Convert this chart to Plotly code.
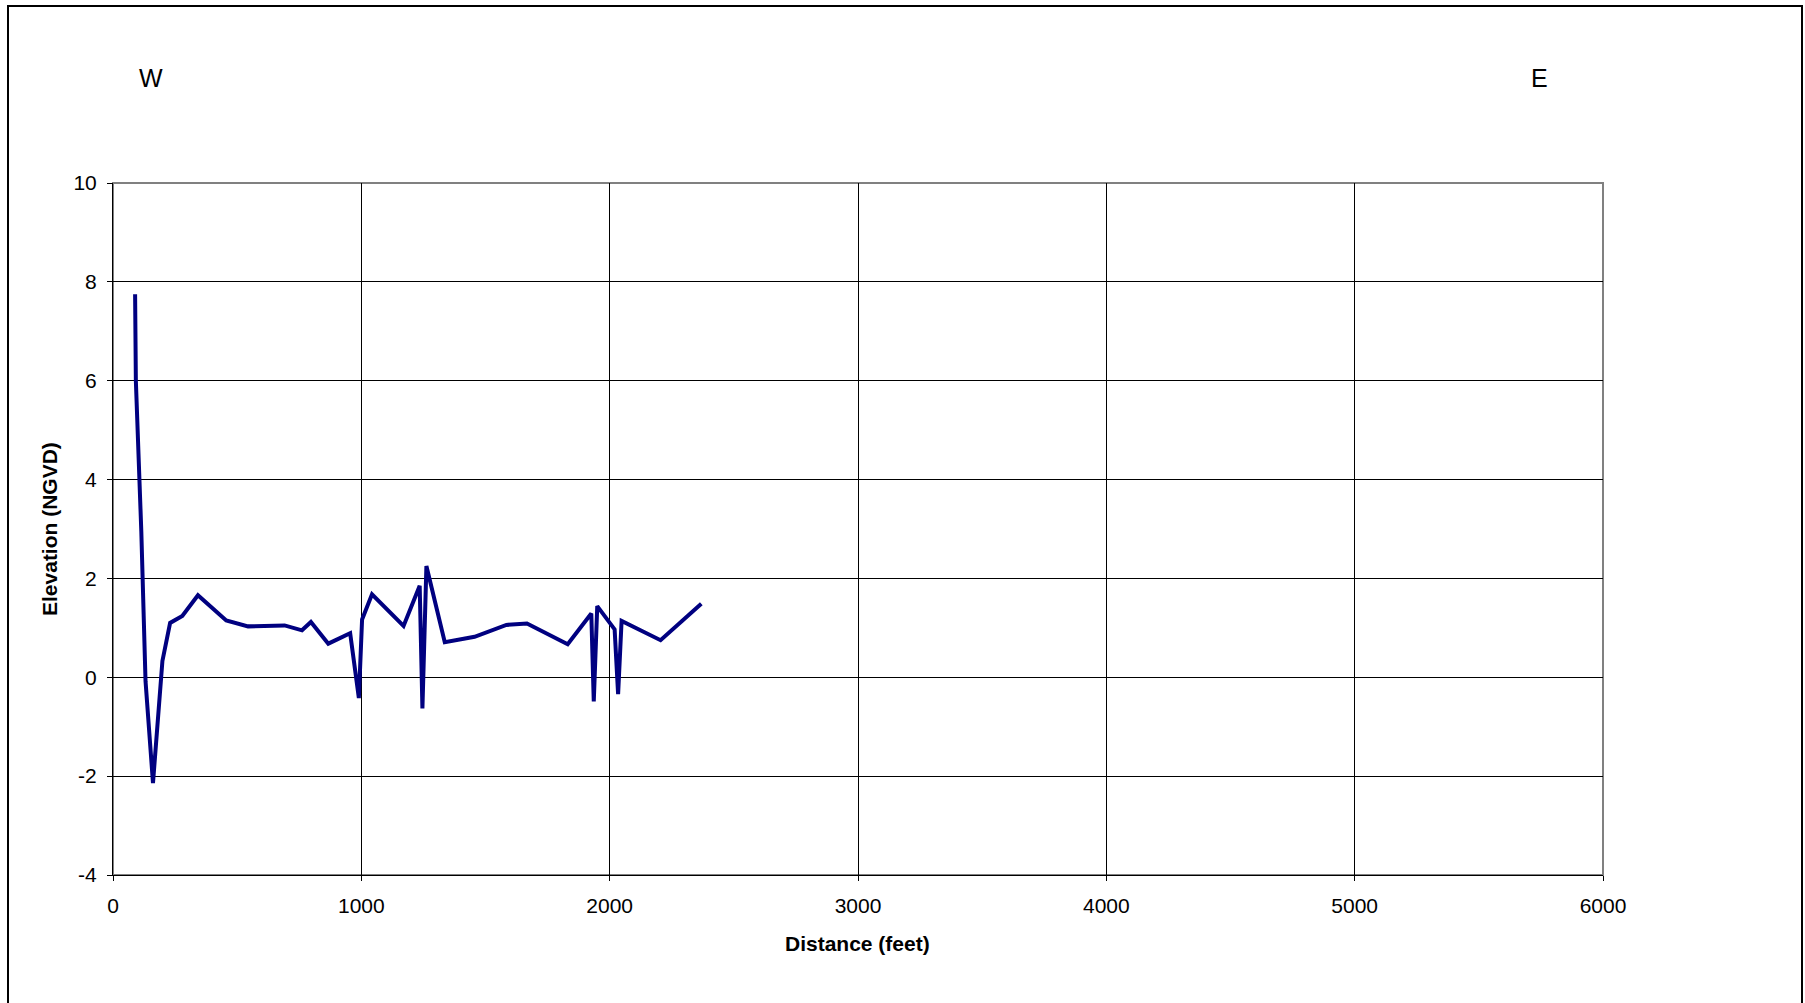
import plotly.graph_objects as go

distance_ft = [89, 92, 114, 131, 161, 199, 230, 279, 342, 456, 544, 691, 761, 797, 867,
               955, 990, 1003, 1043, 1170, 1235, 1246, 1262, 1336, 1456, 1584, 1667,
               1831, 1926, 1936, 1950, 2020, 2034, 2048, 2205, 2369]
elevation_ngvd = [7.75, 6.0, 2.95, -0.08, -2.14, 0.33, 1.10, 1.24, 1.66, 1.15, 1.03, 1.05,
                  0.95, 1.12, 0.68, 0.89, -0.42, 1.17, 1.68, 1.04, 1.85, -0.63, 2.25,
                  0.71, 0.82, 1.06, 1.09, 0.67, 1.29, -0.49, 1.44, 0.97, -0.34, 1.14,
                  0.75, 1.49]
x_ticks = [0, 1000, 2000, 3000, 4000, 5000, 6000]
y_ticks = [-4, -2, 0, 2, 4, 6, 8, 10]

FONT = "Liberation Sans, Arial, sans-serif"
W, H = 1805, 1003
L, R, T, B = 113, 202, 183, 128
pw, ph = W - L - R, H - T - B

fig = go.Figure()
fig.add_trace(go.Scatter(x=distance_ft, y=elevation_ngvd, mode="lines",
                         line=dict(color="#000080", width=4), showlegend=False,
                         hoverinfo="x+y"))

fig.update_layout(
    width=W, height=H,
    margin=dict(l=L, r=R, t=T, b=B, pad=0),
    paper_bgcolor="white", plot_bgcolor="white",
    font=dict(family=FONT, size=21, color="black"),
    showlegend=False,
)
fig.update_xaxes(range=[0, 6000], tickvals=x_ticks, ticktext=[str(v) for v in x_ticks],
                 showgrid=True, gridcolor="black", gridwidth=1,
                 showline=True, linecolor="black", linewidth=1,
                 ticks="outside", ticklen=5, tickcolor="black",
                 zeroline=False, ticklabelstandoff=7,
                 tickfont=dict(size=21, family=FONT))
fig.update_yaxes(range=[-4, 10], tickvals=y_ticks, ticktext=[str(v) for v in y_ticks],
                 showgrid=True, gridcolor="black", gridwidth=1,
                 showline=True, linecolor="black", linewidth=1,
                 ticks="outside", ticklen=5, tickcolor="black",
                 zeroline=False, ticklabelstandoff=6,
                 tickfont=dict(size=21, family=FONT))

# plot area border (gray) and outer chart frame
fig.add_shape(type="rect", xref="paper", yref="paper", x0=0, x1=1, y0=0, y1=1,
              line=dict(color="#808080", width=2), layer="below")
fig.add_shape(type="rect", xref="paper", yref="paper",
              x0=(8 - L) / pw, x1=(1802 - L) / pw,
              y0=-0.3, y1=(H - B - 6) / ph,
              line=dict(color="black", width=2))

def px_x(px):
    return (px - L) / pw

def px_y(py):
    return (H - B - py) / ph

fig.add_annotation(text="<b>Distance (feet)</b>", xref="paper", yref="paper",
                   x=px_x(857), y=px_y(943), showarrow=False,
                   font=dict(size=21, family=FONT), xanchor="center", yanchor="middle")
fig.add_annotation(text="<b>Elevation (NGVD)</b>", xref="paper", yref="paper",
                   x=px_x(49), y=px_y(529), showarrow=False, textangle=-90,
                   font=dict(size=21, family=FONT), xanchor="center", yanchor="middle")
fig.add_annotation(text="W", xref="paper", yref="paper",
                   x=px_x(151), y=px_y(78), showarrow=False,
                   font=dict(size=25, family=FONT), xanchor="center", yanchor="middle")
fig.add_annotation(text="E", xref="paper", yref="paper",
                   x=px_x(1539), y=px_y(78), showarrow=False,
                   font=dict(size=25, family=FONT), xanchor="center", yanchor="middle")

fig.write_html("out.html")
